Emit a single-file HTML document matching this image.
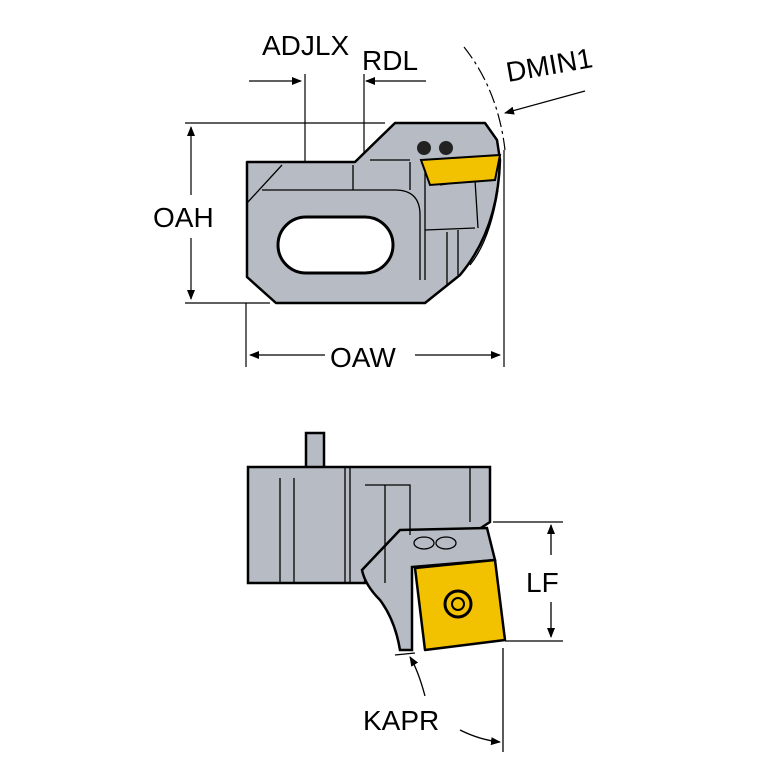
<!DOCTYPE html>
<html><head><style>body{margin:0;background:#fff}svg{display:block}</style></head><body>
<svg width="767" height="767" viewBox="0 0 767 767" font-family="Liberation Sans, sans-serif">
<defs><marker id="a" markerWidth="10" markerHeight="8" refX="9" refY="4" orient="auto" markerUnits="userSpaceOnUse"><path d="M0,0 L10,4 L0,8z" fill="#000"/></marker></defs>
<g stroke="#000" stroke-width="1.2" fill="none">
<line x1="185" y1="123" x2="385" y2="123"/><line x1="185" y1="303" x2="270" y2="303"/>
<line x1="191" y1="195" x2="191" y2="127" marker-end="url(#a)"/><line x1="191" y1="238" x2="191" y2="299" marker-end="url(#a)"/>
<line x1="246" y1="303" x2="246" y2="367"/><line x1="504" y1="150" x2="504" y2="367"/>
<line x1="325" y1="355" x2="250" y2="355" marker-end="url(#a)"/><line x1="415" y1="355" x2="500" y2="355" marker-end="url(#a)"/>
<line x1="249" y1="81" x2="301" y2="81" marker-end="url(#a)"/><line x1="426" y1="81" x2="366" y2="81" marker-end="url(#a)"/>
<line x1="305" y1="74" x2="305" y2="248"/><line x1="364" y1="74" x2="364" y2="248"/>
<path d="M464 47 Q498 90 505 150" stroke-dasharray="14 4 3 4"/>
<line x1="585" y1="91" x2="505" y2="113" marker-end="url(#a)"/>
</g>
<g stroke="#000" stroke-width="2.5" fill="#b7bcc4" stroke-linejoin="round">
<path d="M247 162 L355 162 L395 123 L485 123 L497 140 L500 160 Q498 230 460 275 L425 303 L276 303 L247 277Z"/>
</g>
<g stroke="#000" stroke-width="1.3" fill="none">
<path d="M247 203 L282 165"/><path d="M262 190 L395 190 Q420 190 420 215 L420 280"/>
<line x1="353" y1="165" x2="353" y2="190"/><line x1="370" y1="160" x2="410" y2="160"/>
<line x1="410" y1="162" x2="410" y2="190"/><line x1="425" y1="172" x2="425" y2="280"/><line x1="447" y1="232" x2="447" y2="285"/><line x1="458" y1="230" x2="458" y2="275"/>
<path d="M440 185 L475 180 L478 228"/><path d="M425 230 L475 228"/>
<path d="M498 190 Q490 240 470 265"/>
</g>
<rect x="278" y="217" width="115" height="56" rx="28" fill="#fff" stroke="#000" stroke-width="3"/>
<circle cx="424" cy="148" r="7" fill="#222"/><circle cx="446" cy="148" r="7" fill="#222"/>
<path d="M421 160 L500 155 L495 180 L430 185Z" fill="#f2c200" stroke="#000" stroke-width="2"/>
<g font-size="28" fill="#000">
<text x="262" y="55">ADJLX</text><text x="362" y="70">RDL</text><text x="508" y="82" transform="rotate(-10 508 82)">DMIN1</text>
<text x="153" y="227">OAH</text><text x="330" y="367">OAW</text>
<text x="526" y="592">LF</text><text x="363" y="730">KAPR</text>
</g>
<rect x="306" y="433" width="18" height="36" fill="#b7bcc4" stroke="#000" stroke-width="2.5"/>
<path d="M248 467 L490 467 L490 522 L470 535 L415 535 L395 560 Q365 560 365 583 L248 583Z" fill="#b7bcc4" stroke="#000" stroke-width="2.5"/>
<path d="M362 570 L400 530 L487 528 L495 560 L412 567 L412 650 L400 650 Q395 620 380 600 Q365 585 362 570Z" fill="#b7bcc4" stroke="#000" stroke-width="2.5"/>
<g stroke="#000" stroke-width="1.3" fill="none">
<line x1="280" y1="478" x2="280" y2="583"/><line x1="294" y1="478" x2="294" y2="583"/><line x1="345" y1="467" x2="345" y2="583"/><line x1="350" y1="467" x2="350" y2="583"/>
<path d="M365 485 L410 485 L410 535"/><line x1="385" y1="485" x2="385" y2="583"/>
<line x1="470" y1="467" x2="470" y2="522"/>
<ellipse cx="424" cy="543" rx="10" ry="6"/><ellipse cx="446" cy="543" rx="10" ry="6"/>
<line x1="493" y1="522" x2="563" y2="522"/><line x1="505" y1="641" x2="563" y2="641"/>
<line x1="551" y1="555" x2="551" y2="525" marker-end="url(#a)"/><line x1="551" y1="602" x2="551" y2="637" marker-end="url(#a)"/>
<line x1="503" y1="648" x2="503" y2="752"/><line x1="395" y1="655" x2="415" y2="653"/>
<path d="M425 696 Q418 670 410 657" marker-end="url(#a)"/>
<path d="M460 730 Q480 740 500 742" marker-end="url(#a)"/>
</g>
<path d="M415 568 L495 560 L505 640 L425 650Z" fill="#f2c200" stroke="#000" stroke-width="2.5" stroke-linejoin="round"/>
<circle cx="458" cy="604" r="13" fill="none" stroke="#000" stroke-width="3"/><circle cx="458" cy="604" r="6" fill="none" stroke="#000" stroke-width="2"/>
</svg>
</body></html>
